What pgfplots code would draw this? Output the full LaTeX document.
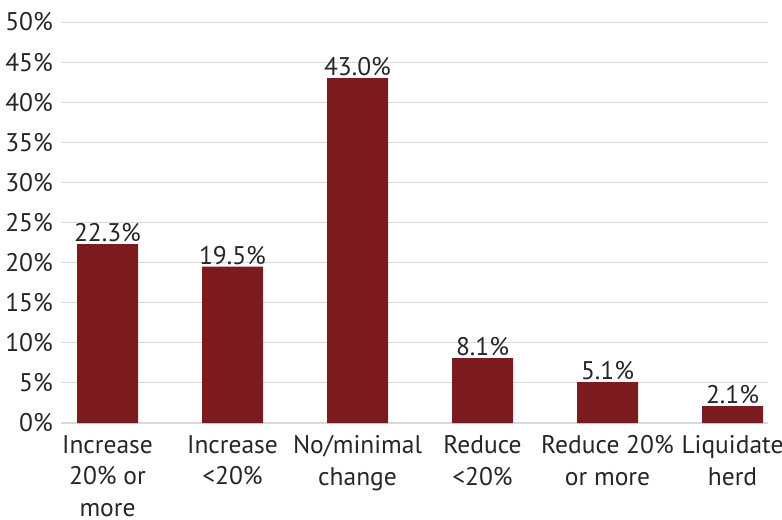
\documentclass[border=0pt]{standalone}
\usepackage{pgfplots}
\pgfplotsset{compat=1.18}
\usepackage{fontspec}
\setmainfont{PT Sans}
\definecolor{barred}{RGB}{123,27,29}
\definecolor{gridgray}{RGB}{217,217,217}
\definecolor{txt}{RGB}{38,38,38}
\begin{document}
\begin{tikzpicture}
\useasboundingbox (-61bp,-97bp) rectangle (721bp,423bp);
\begin{axis}[
  at={(0,0)}, anchor=south west,
  scale only axis, width=707bp, height=401bp,
  xmin=-0.372, xmax=5.284, ymin=0, ymax=50,
  ytick={0,5,...,50},
  yticklabel={\pgfmathprintnumber{\tick}\%},
  /pgf/number format/assume math mode=true,
  ymajorgrids, grid style={gridgray, line width=1bp},
  axis x line*=bottom, axis y line*=left,
  x axis line style={draw=gridgray, line width=1.5bp, -},
  y axis line style={draw=none},
  ytick style={draw=none},
  xtick={0,...,5},
  xtick style={draw=none},
  xticklabels={{Increase\\20\% or\\more},{Increase\\<20\%},{No/minimal\\change},{Reduce\\<20\%},{Reduce 20\%\\or more},{Liquidate\\herd}},
  tick label style={font=\fontsize{25.5bp}{31.5bp}\selectfont, text=txt},
  yticklabel style={anchor=east, inner sep=0pt, xshift=-8bp},
  xticklabel style={align=center, anchor=north, inner sep=0pt, yshift=-8bp},
  extra x ticks={0.5,1.5,2.5,3.5,4.5},
  extra x tick labels={},
  extra x tick style={xmajorgrids=false, tick style={draw=gridgray, line width=1bp}, major tick length=6bp, tick align=outside},
  ybar, bar width=61bp,
  nodes near coords={\pgfmathprintnumber[fixed,fixed zerofill,precision=1]{\pgfplotspointmeta}\%},
  nodes near coords style={font=\fontsize{25.5bp}{30bp}\selectfont, text=txt, inner sep=0pt, anchor=south, yshift=2bp},
]
\addplot[fill=barred, draw=none] coordinates {(0,22.3) (1,19.5) (2,43.0) (3,8.1) (4,5.1) (5,2.1)};
\end{axis}
\end{tikzpicture}
\end{document}
